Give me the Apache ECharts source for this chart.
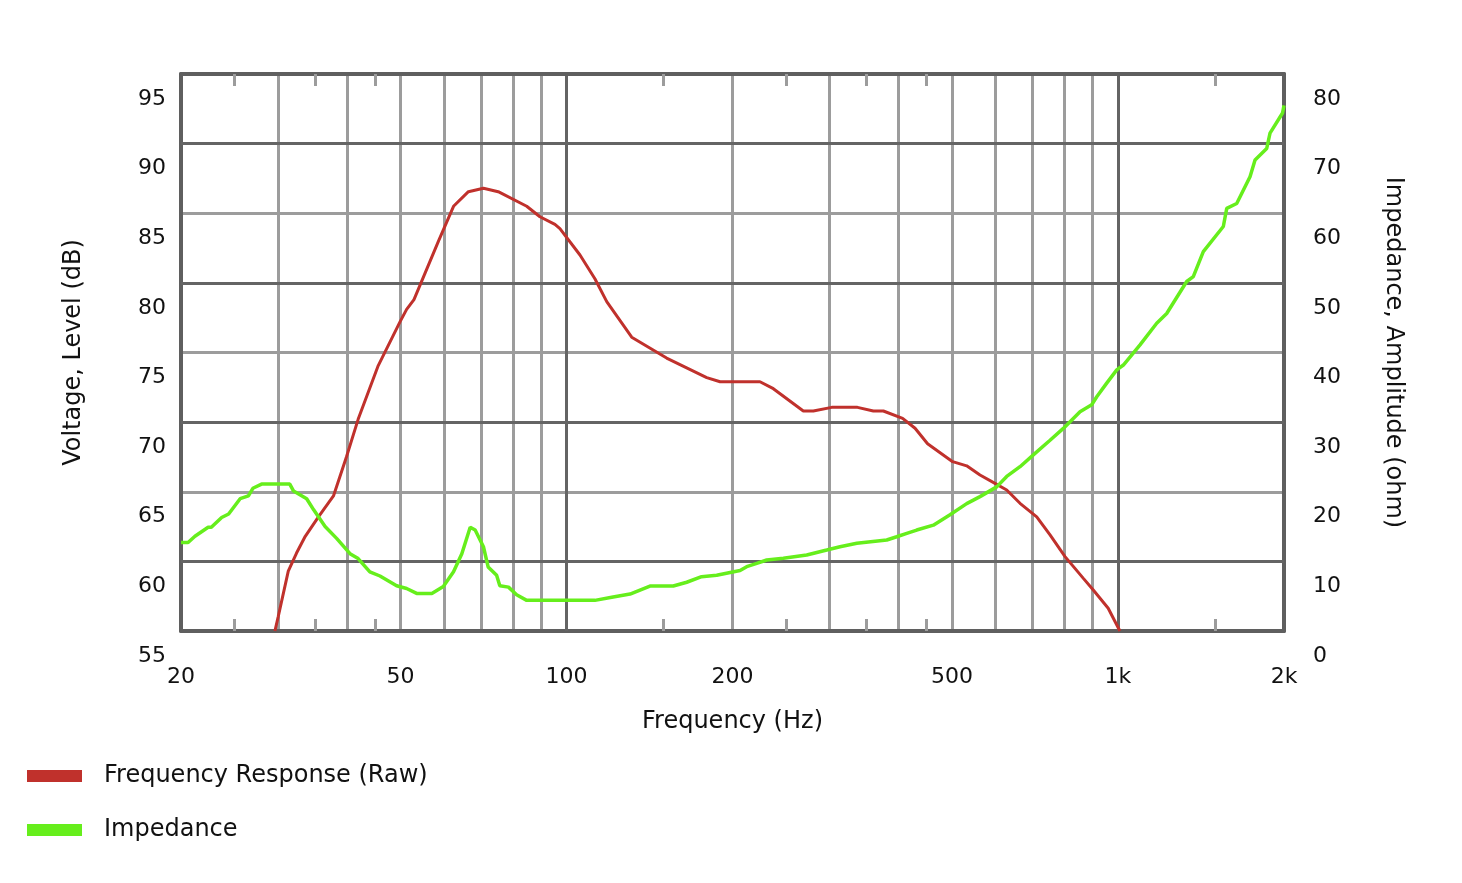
<!DOCTYPE html>
<html><head><meta charset="utf-8">
<script src="https://cdn.jsdelivr.net/npm/echarts@6/dist/echarts.min.js"></script>
<style>html,body{margin:0;padding:0;background:#fff}#c{width:1462px;height:883px}</style>
</head><body><div id="c"></div>
<script>
// Frequency response (Hz, dB)
const freqResponse = [[29.6,55],[30.0,56.0],[31.3,59.3],[32.4,60.6],[33.6,61.8],[35.5,63.2],[37.8,64.7],[39.9,67.5],[41.9,70.2],[45.5,74.0],[49.9,77.2],[51.3,78.1],[52.9,78.8],[58.6,83.0],[62.4,85.5],[66.4,86.55],[70.7,86.8],[75.2,86.55],[84.7,85.5],[89.5,84.75],[95.3,84.2],[97.3,83.9],[105.8,82.0],[112.6,80.3],[118.3,78.65],[131.3,76.1],[151.9,74.6],[179.6,73.2],[189.9,72.9],[224.3,72.9],[237.2,72.4],[268.8,70.8],[280.3,70.8],[302.6,71.06],[337,71.06],[360.1,70.8],[375.5,70.8],[406.9,70.27],[428.6,69.56],[451.6,68.45],[501.4,67.16],[531.7,66.86],[562.1,66.2],[598.4,65.6],[628.4,65.13],[664.3,64.17],[712.3,63.2],[753,61.9],[801.7,60.34],[865.4,58.78],[902,57.94],[960,56.63],[1008,55.0]];
// Impedance (Hz, ohm)
const impedance = [[20,12.7],[20.6,12.7],[21.2,13.6],[22.4,14.9],[22.7,14.9],[23.7,16.3],[24.4,16.8],[25.6,19.0],[26.5,19.4],[27.0,20.5],[28.0,21.1],[31.5,21.1],[32.0,20.1],[33.8,19.0],[34.8,17.4],[36.5,15.0],[38.3,13.3],[40.5,11.1],[41.9,10.4],[44.0,8.5],[45.9,7.9],[49.2,6.5],[51.3,6.1],[53.5,5.4],[57.0,5.4],[59.8,6.4],[62.4,8.5],[64.6,11.1],[66.9,14.9],[68.3,14.5],[70.7,12.1],[72.1,9.2],[74.7,8.0],[75.7,6.5],[78.5,6.3],[81.2,5.2],[84.7,4.4],[112.6,4.4],[120.8,4.84],[130.4,5.3],[141.7,6.46],[156.2,6.46],[165.2,7.0],[175.8,7.8],[187.2,8.0],[206.4,8.7],[212.2,9.24],[221.3,9.72],[230.7,10.2],[247.3,10.44],[272.6,10.92],[296.4,11.63],[313.3,12.11],[336.1,12.6],[380.8,13.07],[397,13.54],[414,14.03],[431.6,14.5],[462.6,15.2],[496,16.7],[531.7,18.3],[562.1,19.3],[602.7,20.7],[628.4,22.2],[664.3,23.6],[702.3,25.3],[753,27.4],[796,29.1],[853.4,31.5],[896.1,32.5],[915.2,33.65],[954.1,35.6],[995,37.5],[1022.8,38.2],[1096.4,41.1],[1175.5,44.2],[1225.6,45.6],[1332.3,50.2],[1369.5,50.9],[1428,54.5],[1552.4,58.1],[1574.7,60.7],[1641.7,61.4],[1735.5,65.25],[1772.2,67.65],[1860.7,69.3],[1886.6,71.5],[1988,74.4],[2000,75.5]];
const xLabelValues = [20,50,100,200,500,1000,2000];
const xGridLight = [30,40,50,60,70,80,90,200,300,400,500,600,700,800,900];
const xGridDark = [100,1000];
const xMinorTicks = [25,35,45,150,250,350,450,1500];
const yLeftDark = [60,70,80,90];

const FONT = 'DejaVu Sans';
const DARK = '#646464', LIGHT = '#9c9c9c', BORDER = '#5f5f5f', TXT = '#111';
const RED = '#c0312c', GREEN = '#66ee1c';
const xCommon = {type:'log', logBase:10, min:20, max:2000, gridIndex:0};
const noLabel = {show:false};

const chart = echarts.init(document.getElementById('c'), null, {renderer:'canvas'});
chart.setOption({
  backgroundColor:'#fff',
  animation:false,
  grid:{left:181, right:178, top:74, bottom:252, containLabel:false},
  legend:{
    orient:'vertical', left:27, top:764, padding:0, itemWidth:55, itemHeight:12, itemGap:30,
    textStyle:{fontFamily:FONT, fontSize:24, color:TXT, padding:[0,0,0,17]},
    data:[{name:'Frequency Response (Raw)', icon:'rect'},{name:'Impedance', icon:'rect'}]
  },
  xAxis:[
    Object.assign({}, xCommon, {
      position:'bottom',
      axisLine:{show:true, onZero:false, lineStyle:{color:BORDER, width:4}},
      axisTick:{show:false, customValues:xGridLight},
      splitLine:{show:true, lineStyle:{color:LIGHT, width:3}},
      axisLabel:{customValues:xLabelValues, fontFamily:FONT, fontSize:22, color:TXT, margin:35,
        formatter:v => v >= 1000 ? (v/1000)+'k' : String(v)},
      name:'Frequency (Hz)', nameLocation:'middle', nameGap:79,
      nameTextStyle:{fontFamily:FONT, fontSize:24, color:TXT}
    }),
    Object.assign({}, xCommon, {
      position:'bottom', z:1,
      axisLine:{show:false}, axisTick:{show:false, customValues:xGridDark},
      splitLine:{show:true, lineStyle:{color:DARK, width:3}}, axisLabel:noLabel
    }),
    Object.assign({}, xCommon, {
      position:'bottom', z:1,
      axisLine:{show:false},
      axisTick:{show:true, inside:true, length:12, customValues:xMinorTicks, lineStyle:{color:LIGHT, width:3}},
      splitLine:{show:false}, axisLabel:noLabel
    }),
    Object.assign({}, xCommon, {
      position:'top', z:1,
      axisLine:{show:true, onZero:false, lineStyle:{color:BORDER, width:4}},
      axisTick:{show:true, inside:true, length:12, customValues:xMinorTicks, lineStyle:{color:LIGHT, width:3}},
      splitLine:{show:false}, axisLabel:noLabel
    })
  ],
  yAxis:[
    {type:'value', min:55, max:95, interval:5, position:'left',
      axisLine:{show:true, onZero:false, lineStyle:{color:BORDER, width:4}},
      axisTick:{show:false},
      splitLine:{show:true, lineStyle:{color:LIGHT, width:3}},
      axisLabel:{fontFamily:FONT, fontSize:22, color:TXT, margin:15, verticalAlign:'top', lineHeight:50},
      name:'Voltage, Level (dB)', nameLocation:'middle', nameGap:95, nameRotate:90,
      nameTextStyle:{fontFamily:FONT, fontSize:24, color:TXT}
    },
    {type:'value', min:0, max:80, interval:10, position:'right',
      axisLine:{show:true, onZero:false, lineStyle:{color:BORDER, width:4}},
      axisTick:{show:false},
      splitLine:{show:false},
      axisLabel:{fontFamily:FONT, fontSize:22, color:TXT, margin:29, verticalAlign:'top', lineHeight:50},
      name:'Impedance, Amplitude (ohm)', nameLocation:'middle', nameGap:97, nameRotate:-90,
      nameTextStyle:{fontFamily:FONT, fontSize:24, color:TXT}
    },
    {type:'value', min:55, max:95, position:'left', z:1,
      axisLine:{show:false}, axisTick:{show:false, customValues:yLeftDark},
      splitLine:{show:true, lineStyle:{color:DARK, width:3}}, axisLabel:noLabel
    }
  ],
  series:[
    {name:'Frequency Response (Raw)', type:'line', xAxisIndex:0, yAxisIndex:0, data:freqResponse,
      showSymbol:false, symbol:'none', color:RED, lineStyle:{color:RED, width:3}, clip:true, z:3},
    {name:'Impedance', type:'line', xAxisIndex:0, yAxisIndex:1, data:impedance,
      showSymbol:false, symbol:'none', color:GREEN, lineStyle:{color:GREEN, width:3.5}, clip:true, z:4}
  ]
});
</script>
</body></html>
